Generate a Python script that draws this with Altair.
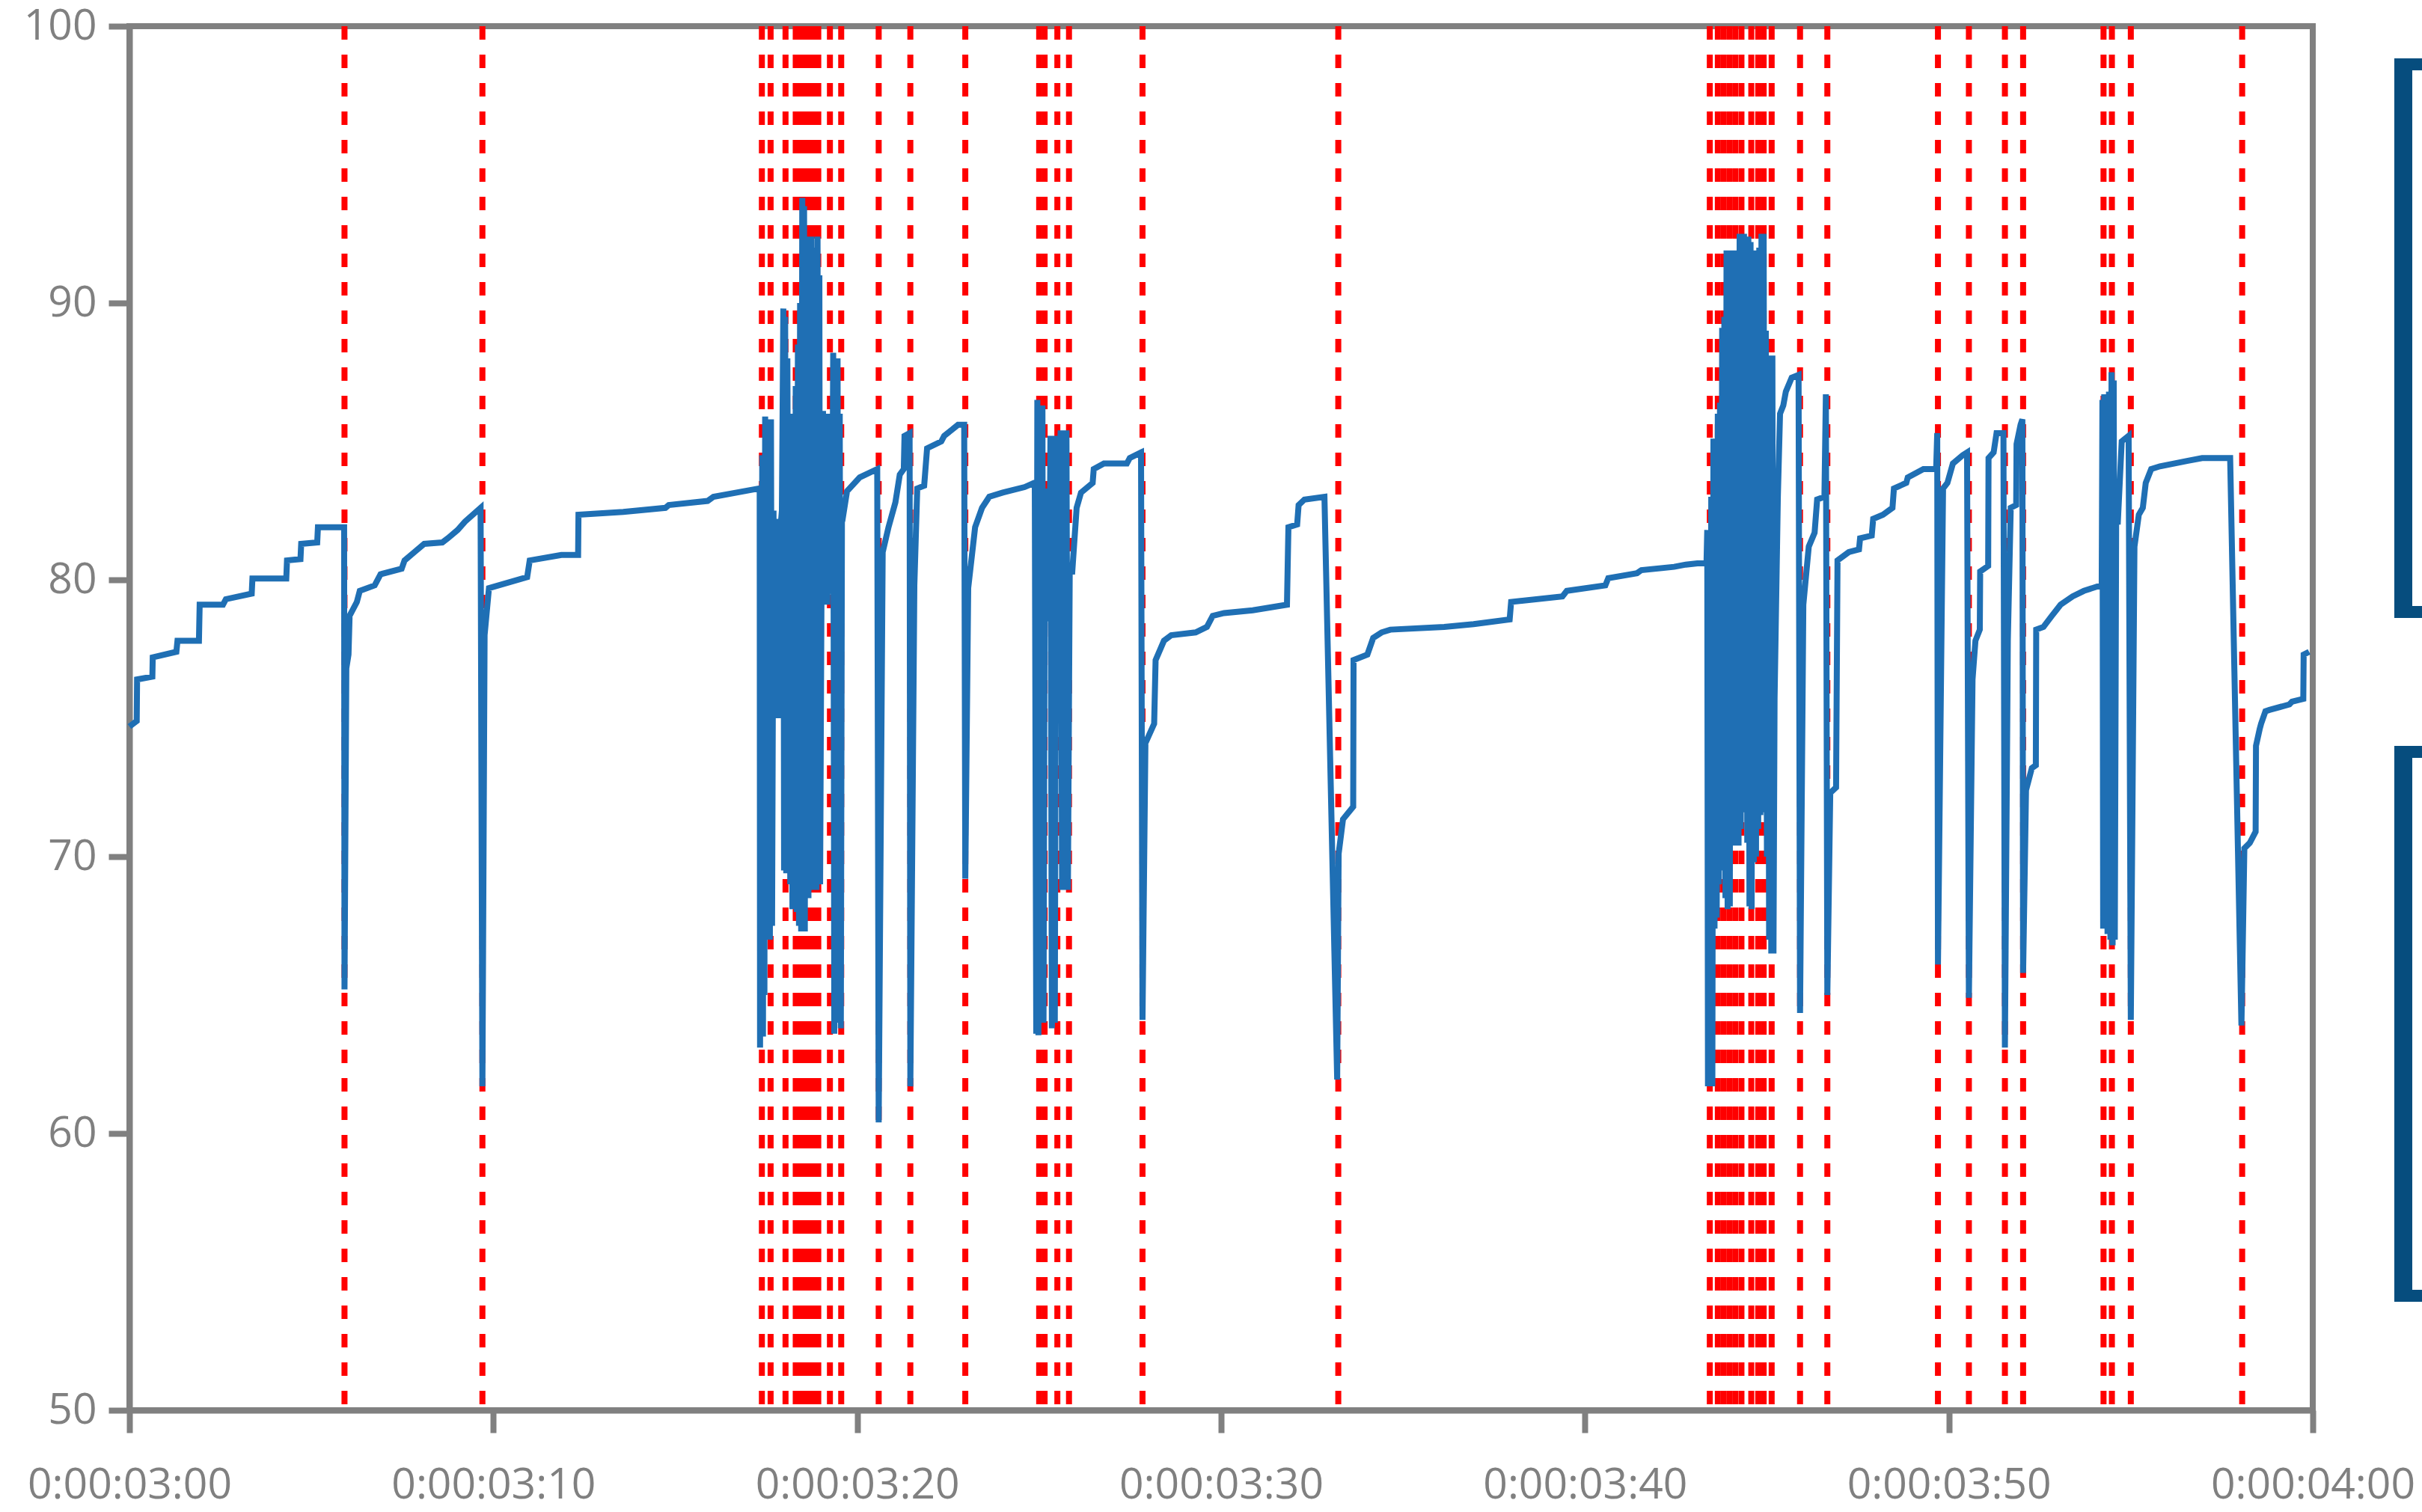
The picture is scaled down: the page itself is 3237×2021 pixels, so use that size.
import altair as alt
import pandas as pd

# ---------------- data ----------------
start_seconds = 180  # 0:00:03:00

x_tick_values = [180, 190, 200, 210, 220, 230, 240]
x_tick_labels = ["0:00:03:00", "0:00:03:10", "0:00:03:20", "0:00:03:30",
                 "0:00:03:40", "0:00:03:50", "0:00:04:00"]
y_tick_values = [50, 60, 70, 80, 90, 100]

# seconds after 0:00:03:00
t_offsets = [
    0.00, 0.20, 0.21, 0.63, 0.64, 1.29, 1.32, 1.91, 1.93, 2.57, 2.65, 3.36, 3.38, 4.31, 4.33, 4.70, 4.72, 5.16, 5.18, 5.90,
    5.91, 5.96, 6.02, 6.05, 6.25, 6.33, 6.74, 6.90, 7.48, 7.56, 7.83, 8.10, 8.60, 8.75, 9.02, 9.22, 9.65,
    9.70, 9.76, 9.88, 10.93, 11.00, 11.87, 12.33, 12.34, 13.57, 14.73, 14.82, 15.89, 16.05, 17.30,
    17.32, 17.33, 17.35, 17.37, 17.39, 17.41, 17.43, 17.45, 17.47, 17.49, 17.52, 17.54, 17.57, 17.60, 17.63, 17.66,
    17.70, 17.72, 17.75, 17.78, 17.82, 17.86, 17.90, 17.93, 17.97, 17.99, 18.02, 18.05, 18.08, 18.10, 18.13, 18.16,
    18.19, 18.22, 18.25, 18.28, 18.31, 18.34, 18.37, 18.40, 18.43, 18.46, 18.49, 18.51, 18.54, 18.56, 18.59, 18.61,
    18.64, 18.66, 18.69, 18.71, 18.74, 18.77, 18.80, 18.82, 18.85, 18.88, 18.91, 18.93, 18.96, 18.98, 19.02, 19.06,
    19.10, 19.14, 19.18, 19.22, 19.26, 19.29, 19.31, 19.34, 19.37, 19.40, 19.43, 19.46, 19.49, 19.52, 19.55, 19.58,
    19.60, 19.72, 20.07, 20.55,
    20.59, 20.70, 20.86, 21.05, 21.17, 21.28, 21.30, 21.44,
    21.46, 21.57, 21.65, 21.84, 21.92, 22.31, 22.39, 22.77, 22.94,
    22.97, 23.05, 23.24, 23.43, 23.63, 24.00, 24.60, 24.86,
    24.88, 24.92, 24.95, 24.98, 25.02, 25.05, 25.09, 25.12, 25.16, 25.20, 25.24, 25.28, 25.31, 25.35, 25.39, 25.43,
    25.47, 25.51, 25.55, 25.59, 25.63, 25.67, 25.71, 25.75, 25.79, 25.84, 25.91, 26.03, 26.15, 26.47, 26.50, 26.78,
    27.41, 27.49, 27.80,
    27.84, 27.92, 28.16, 28.20, 28.43, 28.63, 29.30, 29.61, 29.77, 30.08, 30.87, 31.81, 31.85, 32.09, 32.13, 32.29, 32.84,
    33.19, 33.23, 33.35, 33.63, 33.64, 34.02, 34.18, 34.41, 34.65, 36.13,
    36.94, 37.93, 37.97, 39.38, 39.50, 40.56, 40.64, 41.43, 41.55, 42.45, 42.77, 43.32,
    43.34, 43.36, 43.38, 43.41, 43.44, 43.47, 43.50, 43.53, 43.56, 43.59, 43.62, 43.65, 43.68, 43.71, 43.74, 43.77,
    43.80, 43.83, 43.86, 43.89, 43.92, 43.95, 43.98, 44.01, 44.04, 44.07, 44.10, 44.13, 44.16, 44.19, 44.22, 44.25,
    44.28, 44.31, 44.34, 44.37, 44.40, 44.43, 44.46, 44.49, 44.52, 44.55, 44.58, 44.61, 44.64, 44.67, 44.70, 44.73,
    44.76, 44.79, 44.82, 44.85, 44.88, 44.91, 44.94, 44.97, 45.00, 45.03, 45.06, 45.09, 45.12, 45.15, 45.18, 45.21,
    45.30, 45.36, 45.45, 45.52, 45.68, 45.87,
    45.91, 46.00, 46.15, 46.31, 46.38, 46.58, 46.62,
    46.66, 46.74, 46.90, 46.94, 47.25, 47.53, 47.56, 47.88, 47.92, 48.19,
    48.45, 48.49, 48.83, 48.87, 49.30, 49.65, 49.68,
    49.70, 49.84, 49.96, 50.11, 50.38, 50.50,
    50.55, 50.65, 50.73, 50.85, 50.86, 51.08, 51.09, 51.23, 51.31, 51.50,
    51.54, 51.62, 51.70, 51.85, 51.86, 51.97, 52.02,
    52.04, 52.12, 52.28, 52.39, 52.40, 52.60, 52.83, 52.95, 53.07, 53.40, 53.71, 54.17,
    54.20, 54.22, 54.24, 54.27, 54.30, 54.33, 54.36, 54.40, 54.44, 54.47, 54.50, 54.53, 54.56, 54.60, 54.64, 54.75, 54.94,
    55.00, 55.10, 55.22, 55.33, 55.41, 55.56, 55.80, 56.57, 56.96, 57.73,
    58.04, 58.12, 58.27, 58.43, 58.44, 58.54, 58.58, 58.70, 58.81, 59.36, 59.43, 59.74, 59.75, 59.90,
]

levels = [
    74.7, 74.9, 76.4, 76.5, 77.2, 77.4, 77.8, 77.8, 79.1, 79.1, 79.3, 79.5, 80.05, 80.05, 80.7, 80.75, 81.3, 81.35, 81.9, 81.9,
    65.2, 76.8, 77.3, 78.7, 79.2, 79.6, 79.8, 80.2, 80.4, 80.7, 81.0, 81.3, 81.35, 81.5, 81.8, 82.1, 82.6,
    61.7, 78.0, 79.7, 80.1, 80.7, 80.9, 80.9, 82.35, 82.45, 82.6, 82.7, 82.85, 83.0, 83.3,
    83.3, 63.1, 82.0, 64.0, 84.5, 63.5, 80.0, 65.0, 85.9, 67.0, 85.5, 67.2, 84.0, 67.0, 85.8, 67.5,
    82.5, 75.0, 82.2, 75.2, 81.0, 75.0, 82.0, 82.5, 89.8, 69.5, 89.5, 69.4, 88.0, 80.0, 85.0, 69.0,
    86.0, 68.1, 84.0, 68.5, 87.0, 68.0, 88.5, 67.5, 90.0, 67.3, 93.8, 68.0, 93.5, 67.3, 92.0, 69.0,
    92.4, 68.5, 91.5, 69.5, 92.4, 68.8, 92.0, 69.5, 91.8, 68.8, 92.4, 70.0, 91.0, 69.0, 80.0, 86.1,
    79.2, 85.5, 79.1, 86.0, 79.5, 85.0, 79.5, 88.2, 63.6, 87.5, 64.0, 88.0, 66.0, 86.0, 63.8, 82.2,
    82.2, 83.2, 83.7, 84.0,
    60.4, 81.0, 81.9, 82.8, 83.8, 84.0, 85.2, 85.3,
    61.7, 79.8, 83.3, 83.4, 84.75, 85.0, 85.2, 85.6, 85.6,
    69.2, 79.7, 81.9, 82.6, 83.0, 83.15, 83.35, 83.5,
    83.5, 63.6, 86.5, 63.55, 86.0, 64.5, 86.3, 64.0, 83.3, 78.5, 83.0, 78.6, 85.2, 63.8, 85.0, 64.0,
    85.2, 81.0, 81.3, 85.4, 68.8, 85.2, 69.0, 85.4, 68.8, 80.3, 80.3, 82.6, 83.15, 83.5, 84.0, 84.2,
    84.2, 84.4, 84.6,
    64.1, 74.1, 74.8, 77.1, 77.8, 78.0, 78.1, 78.3, 78.7, 78.8, 78.9, 79.1, 81.9, 82.0, 82.7, 82.9, 83.0,
    61.95, 70.1, 71.35, 71.8, 77.1, 77.3, 77.9, 78.1, 78.2, 78.3,
    78.4, 78.57, 79.2, 79.4, 79.6, 79.8, 80.06, 80.24, 80.35, 80.47, 80.55, 80.63,
    80.63, 81.8, 61.7, 81.5, 61.8, 83.0, 61.7, 85.1, 67.4, 85.0, 67.8, 86.0, 69.0, 86.4, 70.2, 89.1,
    69.5, 89.5, 68.5, 91.9, 68.1, 91.8, 68.2, 91.9, 70.4, 91.5, 70.4, 91.9, 70.6, 90.8, 70.4, 92.5,
    71.0, 92.4, 71.6, 92.5, 71.6, 92.0, 70.5, 92.4, 68.2, 92.2, 68.1, 91.5, 69.8, 91.9, 70.0, 91.0,
    71.0, 92.0, 71.5, 92.5, 71.6, 92.5, 71.6, 89.0, 70.0, 88.1, 67.0, 88.0, 66.5, 88.1, 66.5, 75.7,
    83.0, 86.0, 86.3, 86.8, 87.3, 87.4,
    64.35, 79.1, 81.2, 81.7, 82.9, 83.0, 86.7,
    65.0, 72.3, 72.5, 80.7, 81.0, 81.1, 81.5, 81.6, 82.2, 82.35,
    82.6, 83.3, 83.5, 83.7, 84.0, 84.0, 85.3,
    66.1, 83.3, 83.5, 84.2, 84.5, 84.6,
    64.9, 76.4, 77.8, 78.2, 80.3, 80.5, 84.4, 84.6, 85.3, 85.3,
    63.1, 77.8, 82.6, 82.7, 84.9, 85.6, 85.8,
    65.8, 72.4, 73.2, 73.3, 78.2, 78.3, 78.7, 78.9, 79.1, 79.4, 79.6, 79.8,
    79.8, 86.5, 67.4, 86.7, 67.5, 86.0, 67.2, 86.8, 67.0, 87.5, 66.8, 87.2, 67.0, 83.3, 82.0, 85.0, 85.2,
    64.1, 81.2, 82.35, 82.6, 83.5, 84.0, 84.1, 84.3, 84.4, 84.4,
    63.9, 70.3, 70.5, 70.9, 74.0, 74.6, 74.8, 75.25, 75.3, 75.5, 75.6, 75.7, 77.3, 77.4,
]

# event markers (seconds after 0:00:03:00)
event_offsets = [
    5.91, 9.70,
    17.38, 17.62, 18.03, 18.31, 18.45, 18.58, 18.69, 18.81, 18.93, 19.25, 19.56,
    20.59, 21.46, 22.97,
    25.00, 25.15, 25.50, 25.82, 27.84, 33.22,
    43.43, 43.65, 43.81, 43.97, 44.13, 44.30, 44.57, 44.76, 44.91, 45.13,
    45.91, 46.66, 49.70, 50.55, 51.54, 52.04, 54.25, 54.48, 55.00, 58.06,
]

# ---------------- tables ----------------
series = pd.DataFrame({
    "t": [start_seconds + o for o in t_offsets],
    "v": levels,
    "i": list(range(len(levels))),
})
events = pd.DataFrame({"t": [start_seconds + o for o in event_offsets]})
one = pd.DataFrame({"k": [0]})

label_expr = "".join(
    f"datum.value == {v} ? '{l}' : " for v, l in zip(x_tick_values, x_tick_labels)
) + "''"

GRAY = "#808080"
FONT = "Open Sans"

x_scale = alt.Scale(domain=[180, 240], nice=False, zero=False)
y_scale = alt.Scale(domain=[50, 100], nice=False, zero=False)

x_axis = alt.Axis(values=x_tick_values, labelExpr=label_expr, title=None, grid=False,
                  domainColor=GRAY, domainWidth=8, tickColor=GRAY, tickWidth=8, tickSize=30,
                  labelFont=FONT, labelFontSize=57, labelColor=GRAY, labelPadding=42,
                  labelLimit=0, labelOverlap=False, labelBound=False, labelFlush=False)
y_axis = alt.Axis(values=y_tick_values, title=None, grid=False,
                  domainColor=GRAY, domainWidth=8, tickColor=GRAY, tickWidth=8, tickSize=28,
                  labelFont=FONT, labelFontSize=57, labelColor=GRAY, labelPadding=16,
                  labelLimit=0)

rules = alt.Chart(events).mark_rule(color="#ff0000", strokeWidth=8, strokeDash=[18, 20]).encode(
    x=alt.X("t:Q", scale=x_scale, axis=x_axis)
)

line = alt.Chart(series).mark_line(color="#1f6fb4", strokeWidth=8).encode(
    x=alt.X("t:Q", scale=x_scale, axis=x_axis),
    y=alt.Y("v:Q", scale=y_scale, axis=y_axis),
    order=alt.Order("i:Q"),
)

BR = "#064d7e"


def bracket(y_top, y_bot):
    vert = alt.Chart(one).mark_rule(color=BR, strokeWidth=24).encode(
        x=alt.value(3039), y=alt.value(y_top), y2=alt.value(y_bot))
    top = alt.Chart(one).mark_rule(color=BR, strokeWidth=16).encode(
        x=alt.value(3028), x2=alt.value(3070), y=alt.value(y_top + 8))
    bot = alt.Chart(one).mark_rule(color=BR, strokeWidth=16).encode(
        x=alt.value(3028), x2=alt.value(3070), y=alt.value(y_bot - 8))
    return [vert, top, bot]


layers = [rules, line] + bracket(43, 791) + bracket(962, 1705)

chart = alt.layer(*layers).properties(
    width=2918,
    height=1850,
    autosize=alt.AutoSizeParams(type="none"),
    padding={"left": 173, "top": 35, "right": 146, "bottom": 136},
    background="white",
).configure_view(stroke=GRAY, strokeWidth=8)

chart.save("out.html", embed_options={"renderer": "svg", "actions": False})
